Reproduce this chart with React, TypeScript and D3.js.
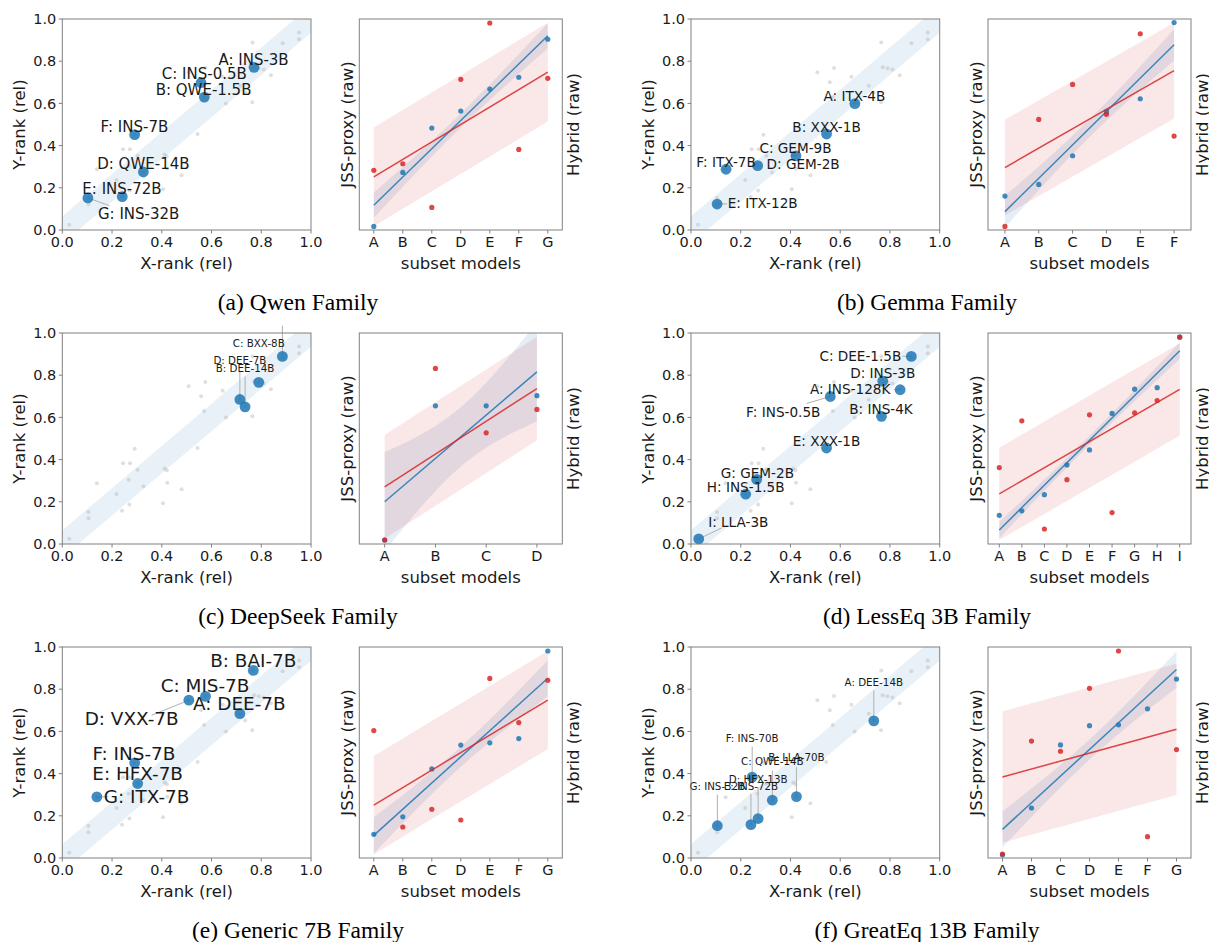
import React from 'react';
import * as d3 from 'd3';

const W = 1209;
const H = 942;

// every model in the pool (grey background dots), rank space
const poolX = [0.028, 0.105, 0.105, 0.139, 0.218, 0.24, 0.244, 0.272, 0.267, 0.27, 0.291, 0.303, 0.326, 0.411, 0.42, 0.422, 0.405, 0.48, 0.508, 0.544, 0.558, 0.575, 0.57, 0.645, 0.658, 0.715, 0.735, 0.764, 0.765, 0.771, 0.79, 0.81, 0.839, 0.886, 0.952, 0.952];
const poolY = [0.025, 0.152, 0.122, 0.288, 0.237, 0.157, 0.383, 0.383, 0.304, 0.187, 0.451, 0.352, 0.272, 0.358, 0.35, 0.29, 0.193, 0.26, 0.748, 0.455, 0.70, 0.768, 0.63, 0.726, 0.599, 0.684, 0.652, 0.605, 0.889, 0.771, 0.766, 0.761, 0.733, 0.885, 0.936, 0.904];

// (a) Qwen
const qwenNames = ['A: INS-3B', 'B: QWE-1.5B', 'C: INS-0.5B', 'D: QWE-14B', 'E: INS-72B', 'F: INS-7B', 'G: INS-32B'];
const qwenX = [0.771, 0.571, 0.558, 0.326, 0.241, 0.291, 0.103];
const qwenY = [0.771, 0.630, 0.698, 0.275, 0.158, 0.452, 0.152];
const qwenLabelAt = [[0.769, 0.809], [0.568, 0.667], [0.571, 0.742], [0.326, 0.313], [0.24, 0.197], [0.29, 0.488], [0.307, 0.076]];
const qwenLinkTo = [null, null, null, null, null, null, [0.19, 0.115]];
const qwenSubset = ['A', 'B', 'C', 'D', 'E', 'F', 'G'];
const qwenJss = [0.017, 0.273, 0.483, 0.564, 0.668, 0.724, 0.904];
const qwenHybrid = [0.283, 0.314, 0.107, 0.714, 0.981, 0.382, 0.719];

// (b) Gemma
const gemmaNames = ['A: ITX-4B', 'B: XXX-1B', 'C: GEM-9B', 'D: GEM-2B', 'E: ITX-12B', 'F: ITX-7B'];
const gemmaX = [0.659, 0.545, 0.422, 0.268, 0.105, 0.141];
const gemmaY = [0.599, 0.455, 0.351, 0.305, 0.123, 0.288];
const gemmaLabelAt = [[0.657, 0.633], [0.545, 0.49], [0.42, 0.387], [0.451, 0.311], [0.288, 0.126], [0.141, 0.322]];
const gemmaLinkTo = [null, null, null, null, [0.145, 0.124], null];
const gemmaSubset = ['A', 'B', 'C', 'D', 'E', 'F'];
const gemmaJss = [0.161, 0.216, 0.352, 0.561, 0.622, 0.983];
const gemmaHybrid = [0.017, 0.524, 0.690, 0.548, 0.930, 0.445];

// (c) DeepSeek (A has no visible label)
const deepNames = ['', 'B: DEE-14B', 'C: BXX-8B', 'D: DEE-7B'];
const deepX = [0.79, 0.735, 0.885, 0.714];
const deepY = [0.766, 0.65, 0.889, 0.685];
const deepLabelAt = [null, [0.735, 0.834], [0.79, 0.952], [0.714, 0.869]];
const deepLinkTo = [null, [0.735, 0.793], [0.885, 1.035], [0.714, 0.817]];
const deepSubset = ['A', 'B', 'C', 'D'];
const deepJss = [0.019, 0.655, 0.655, 0.703];
const deepHybrid = [0.019, 0.832, 0.527, 0.638];

// (d) LessEq 3B
const lessNames = ['A: INS-128K', 'B: INS-4K', 'C: DEE-1.5B', 'D: INS-3B', 'E: XXX-1B', 'F: INS-0.5B', 'G: GEM-2B', 'H: INS-1.5B', 'I: LLA-3B'];
const lessX = [0.841, 0.766, 0.886, 0.771, 0.545, 0.56, 0.264, 0.22, 0.031];
const lessY = [0.731, 0.605, 0.889, 0.772, 0.455, 0.699, 0.306, 0.236, 0.024];
const lessLabelAt = [[0.64, 0.732], [0.764, 0.64], [0.681, 0.892], [0.771, 0.809], [0.545, 0.49], [0.371, 0.626], [0.267, 0.338], [0.22, 0.272], [0.19, 0.105]];
const lessLinkTo = [[0.815, 0.732], null, [0.85, 0.89], null, null, [0.465, 0.666], null, null, [0.123, 0.076]];
const lessSubset = ['A', 'B', 'C', 'D', 'E', 'F', 'G', 'H', 'I'];
const lessJss = [0.136, 0.157, 0.234, 0.375, 0.446, 0.619, 0.734, 0.741, 0.98];
const lessHybrid = [0.362, 0.584, 0.071, 0.305, 0.612, 0.149, 0.622, 0.680, 0.981];

// (e) Generic 7B
const genNames = ['A: DEE-7B', 'B: BAI-7B', 'C: MIS-7B', 'D: VXX-7B', 'E: HFX-7B', 'F: INS-7B', 'G: ITX-7B'];
const genX = [0.714, 0.768, 0.576, 0.509, 0.303, 0.291, 0.139];
const genY = [0.684, 0.889, 0.766, 0.748, 0.353, 0.451, 0.29];
const genLabelAt = [[0.712, 0.734], [0.768, 0.937], [0.574, 0.816], [0.279, 0.663], [0.303, 0.402], [0.288, 0.498], [0.339, 0.293]];
const genLinkTo = [null, null, null, [0.359, 0.676], null, null, [0.185, 0.29]];
const genSubset = ['A', 'B', 'C', 'D', 'E', 'F', 'G'];
const genJss = [0.112, 0.195, 0.422, 0.535, 0.546, 0.566, 0.981];
const genHybrid = [0.604, 0.147, 0.231, 0.180, 0.851, 0.642, 0.842];

// (f) GreatEq 13B
const greatNames = ['A: DEE-14B', 'B: LLA-70B', 'C: QWE-14B', 'D: HFX-13B', 'E: INS-72B', 'F: INS-70B', 'G: INS-32B'];
const greatX = [0.735, 0.424, 0.327, 0.27, 0.241, 0.246, 0.106];
const greatY = [0.65, 0.291, 0.274, 0.187, 0.158, 0.383, 0.153];
const greatLabelAt = [[0.735, 0.834], [0.424, 0.478], [0.327, 0.459], [0.27, 0.373], [0.241, 0.34], [0.246, 0.568], [0.106, 0.34]];
const greatLinkTo = [[0.735, 0.794], [0.424, 0.43], [0.327, 0.415], [0.27, 0.335], [0.241, 0.304], [0.246, 0.528], [0.106, 0.3]];
const greatSubset = ['A', 'B', 'C', 'D', 'E', 'F', 'G'];
const greatJss = [0.015, 0.237, 0.536, 0.627, 0.631, 0.707, 0.848];
const greatHybrid = [0.019, 0.554, 0.506, 0.804, 0.981, 0.101, 0.514];

const rankTicks = [0, 0.2, 0.4, 0.6, 0.8, 1.0];

const panels = [
  { id: 'a', caption: '(a) Qwen Family', row: 0, col: 0, fs: 15, names: qwenNames, xs: qwenX, ys: qwenY, labelAt: qwenLabelAt, linkTo: qwenLinkTo, subset: qwenSubset, jss: qwenJss, hybrid: qwenHybrid },
  { id: 'b', caption: '(b) Gemma Family', row: 0, col: 1, fs: 13.6, names: gemmaNames, xs: gemmaX, ys: gemmaY, labelAt: gemmaLabelAt, linkTo: gemmaLinkTo, subset: gemmaSubset, jss: gemmaJss, hybrid: gemmaHybrid },
  { id: 'c', caption: '(c) DeepSeek Family', row: 1, col: 0, fs: 10.3, names: deepNames, xs: deepX, ys: deepY, labelAt: deepLabelAt, linkTo: deepLinkTo, subset: deepSubset, jss: deepJss, hybrid: deepHybrid },
  { id: 'd', caption: '(d) LessEq 3B Family', row: 1, col: 1, fs: 13.6, names: lessNames, xs: lessX, ys: lessY, labelAt: lessLabelAt, linkTo: lessLinkTo, subset: lessSubset, jss: lessJss, hybrid: lessHybrid },
  { id: 'e', caption: '(e) Generic 7B Family', row: 2, col: 0, fs: 18.4, names: genNames, xs: genX, ys: genY, labelAt: genLabelAt, linkTo: genLinkTo, subset: genSubset, jss: genJss, hybrid: genHybrid },
  { id: 'f', caption: '(f) GreatEq 13B Family', row: 2, col: 1, fs: 10.3, names: greatNames, xs: greatX, ys: greatY, labelAt: greatLabelAt, linkTo: greatLinkTo, subset: greatSubset, jss: greatJss, hybrid: greatHybrid },
];

// layout
const colLeft = [62.3, 691];
const captionX = [298, 927];
const rowTop = [19, 333, 647];
const sw = 248.7; // scatter width
const ph = 211; // panel height
const subOffset = 297; // subplot left relative to scatter left
const subW = 203;

const BLUE = '#1f77b4';
const RED = '#d62728';
const SPINE = '#808080';
const TXT = '#1a1a1a';
const FONT = 'DejaVu Sans, sans-serif';
const TICK_FS = 14.5;
const AXIS_FS = 16.5;

function linfit(ys: number[]) {
  const n = ys.length;
  const xs = d3.range(n);
  const mx = d3.mean(xs) as number;
  const my = d3.mean(ys) as number;
  const sxx = d3.sum(xs, (x) => (x - mx) ** 2);
  const slope = d3.sum(xs, (x, i) => (x - mx) * (ys[i] - my)) / sxx;
  const icpt = my - slope * mx;
  const ss = d3.sum(ys, (y, i) => (y - (icpt + slope * i)) ** 2);
  const s = Math.sqrt(ss / Math.max(n - 2, 1));
  return {
    f: (x: number) => icpt + slope * x,
    sd: Math.sqrt(ss / n),
    se: (x: number) => s * Math.sqrt(1 / n + (x - mx) ** 2 / sxx),
  };
}

const Panel = ({ p }: { p: any }) => {
  const L = colLeft[p.col];
  const T = rowTop[p.row];
  const B = T + ph;
  const xS = d3.scaleLinear().domain([0, 1]).range([L, L + sw]);
  const yS = d3.scaleLinear().domain([0, 1]).range([B, T]);

  const SL = L + subOffset;
  const SR = SL + subW;
  const n = p.subset.length;
  const cx = d3.scaleLinear().domain([-0.5, n - 0.5]).range([SL, SR]);
  const cy = d3.scaleLinear().domain([0, 1]).range([B, T]);

  // diagonal agreement band y = x ± 0.065
  const band = [[-0.2, -0.135], [1.2, 1.265], [1.2, 1.135], [-0.2, -0.265]];
  const bandPath = d3.line()(band.map(([x, y]) => [xS(x), yS(y)]) as any) + 'Z';

  const fb = linfit(p.jss);
  const fr = linfit(p.hybrid);
  const grid = d3.range(0, n - 1 + 1e-9, (n - 1) / 60);
  const blueBand = d3.area<number>()
    .x((d) => cx(d))
    .y0((d) => cy(fb.f(d) - 1.2 * fb.se(d)))
    .y1((d) => cy(fb.f(d) + 1.2 * fb.se(d)))(grid);
  const redBand = d3.area<number>()
    .x((d) => cx(d))
    .y0((d) => cy(fr.f(d) - fr.sd))
    .y1((d) => cy(fr.f(d) + fr.sd))(grid);

  const clipS = `clip-s-${p.id}`;
  const clipR = `clip-r-${p.id}`;

  return (
    <g>
      <defs>
        <clipPath id={clipS}><rect x={L} y={T} width={sw} height={ph} /></clipPath>
        <clipPath id={clipR}><rect x={SL} y={T} width={subW} height={ph} /></clipPath>
      </defs>

      {/* rank scatter */}
      <g clipPath={`url(#${clipS})`}>
        <path d={bandPath} fill={BLUE} fillOpacity={0.1} />
        {poolX.map((x, i) => (
          <circle key={i} cx={xS(x)} cy={yS(poolY[i])} r={2} fill="#b8b8b8" fillOpacity={0.45} />
        ))}
      </g>
      {p.xs.map((x: number, i: number) => p.linkTo[i] ? (
        <line key={'l' + i} x1={xS(x)} y1={yS(p.ys[i])} x2={xS(p.linkTo[i][0])} y2={yS(p.linkTo[i][1])} stroke="#b0b0b0" strokeWidth={1} />
      ) : null)}
      {p.xs.map((x: number, i: number) => (
        <circle key={'p' + i} cx={xS(x)} cy={yS(p.ys[i])} r={5.4} fill={BLUE} fillOpacity={0.85} />
      ))}
      {p.names.map((nm: string, i: number) => p.labelAt[i] && nm ? (
        <text key={'t' + i} x={xS(p.labelAt[i][0])} y={yS(p.labelAt[i][1])} dy="0.36em" textAnchor="middle" fontSize={p.fs} fill={TXT} fontFamily={FONT}>{nm}</text>
      ) : null)}
      <rect x={L} y={T} width={sw} height={ph} fill="none" stroke={SPINE} strokeWidth={1} />
      {rankTicks.map((t) => (
        <g key={'x' + t}>
          <line x1={xS(t)} x2={xS(t)} y1={B} y2={B + 3.5} stroke={SPINE} />
          <text x={xS(t)} y={B + 5.5} dy="0.76em" textAnchor="middle" fontSize={TICK_FS} fill={TXT} fontFamily={FONT}>{d3.format('.1f')(t)}</text>
          <line x1={L - 3.5} x2={L} y1={yS(t)} y2={yS(t)} stroke={SPINE} />
          <text x={L - 6} y={yS(t)} dy="0.36em" textAnchor="end" fontSize={TICK_FS} fill={TXT} fontFamily={FONT}>{d3.format('.1f')(t)}</text>
        </g>
      ))}
      <text x={L + sw / 2} y={B + 39} textAnchor="middle" fontSize={AXIS_FS} fill={TXT} fontFamily={FONT}>X-rank (rel)</text>
      <text transform={`translate(${L - 43},${T + ph / 2}) rotate(-90)`} dy="0.36em" textAnchor="middle" fontSize={AXIS_FS} fill={TXT} fontFamily={FONT}>Y-rank (rel)</text>

      {/* subset regression */}
      <g clipPath={`url(#${clipR})`}>
        <path d={blueBand as string} fill={BLUE} fillOpacity={0.12} />
        <path d={redBand as string} fill={RED} fillOpacity={0.11} />
      </g>
      <line x1={cx(0)} x2={cx(n - 1)} y1={cy(fb.f(0))} y2={cy(fb.f(n - 1))} stroke={BLUE} strokeWidth={1.5} strokeOpacity={0.85} />
      {p.jss.map((v: number, i: number) => (
        <circle key={'b' + i} cx={cx(i)} cy={cy(v)} r={2.6} fill={BLUE} fillOpacity={0.85} />
      ))}
      <line x1={cx(0)} x2={cx(n - 1)} y1={cy(fr.f(0))} y2={cy(fr.f(n - 1))} stroke={RED} strokeWidth={1.5} strokeOpacity={0.85} />
      {p.hybrid.map((v: number, i: number) => (
        <circle key={'r' + i} cx={cx(i)} cy={cy(v)} r={2.6} fill={RED} fillOpacity={0.85} />
      ))}
      <rect x={SL} y={T} width={subW} height={ph} fill="none" stroke={SPINE} strokeWidth={1} />
      {p.subset.map((c: string, i: number) => (
        <g key={'c' + c}>
          <line x1={cx(i)} x2={cx(i)} y1={B} y2={B + 3.5} stroke={SPINE} />
          <text x={cx(i)} y={B + 5.5} dy="0.76em" textAnchor="middle" fontSize={TICK_FS} fill={TXT} fontFamily={FONT}>{c}</text>
        </g>
      ))}
      <text x={(SL + SR) / 2} y={B + 39} textAnchor="middle" fontSize={AXIS_FS} fill={TXT} fontFamily={FONT}>subset models</text>
      <text transform={`translate(${SL - 12},${T + ph / 2}) rotate(-90)`} dy="0.36em" textAnchor="middle" fontSize={AXIS_FS} fill={TXT} fontFamily={FONT}>JSS-proxy (raw)</text>
      <text transform={`translate(${SR + 11},${T + ph / 2}) rotate(-90)`} dy="0.36em" textAnchor="middle" fontSize={AXIS_FS} fill={TXT} fontFamily={FONT}>Hybrid (raw)</text>

      <text x={captionX[p.col]} y={B + 80} textAnchor="middle" fontSize={23.5} fill="#000" fontFamily="Liberation Serif, serif">{p.caption}</text>
    </g>
  );
};

export default function App() {
  return (
    <svg width={W} height={H} style={{ position: 'absolute', left: 0, top: 0, background: '#fff' }}>
      <rect width={W} height={H} fill="#fff" />
      {panels.map((p) => <Panel key={p.id} p={p} />)}
    </svg>
  );
}
